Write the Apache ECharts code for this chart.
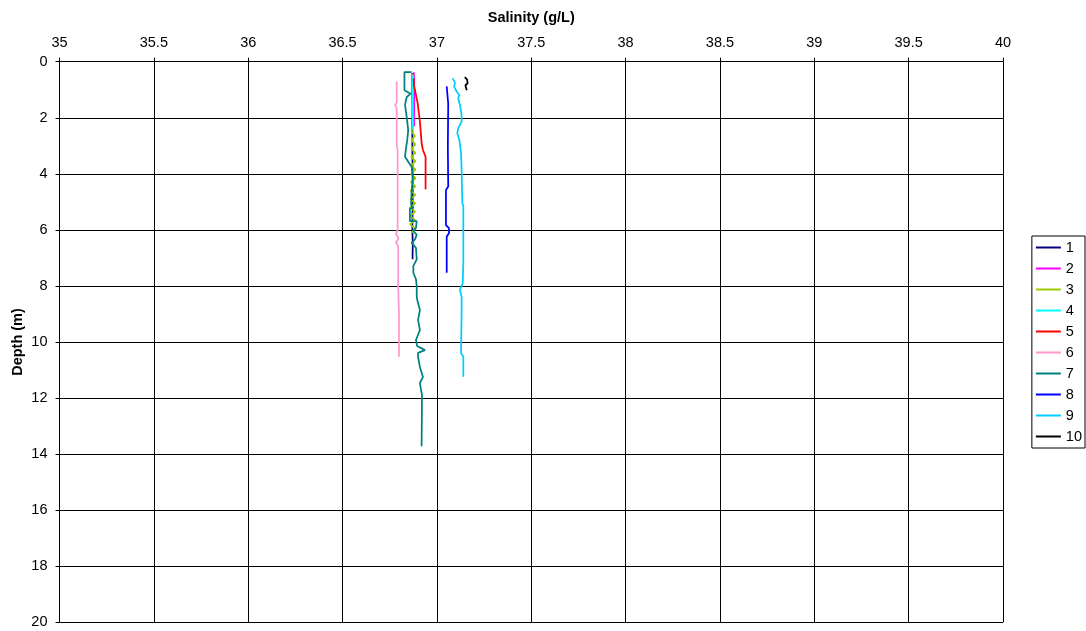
<!DOCTYPE html>
<html>
<head>
<meta charset="utf-8">
<script src="https://cdn.jsdelivr.net/npm/echarts@6/dist/echarts.min.js"></script>
<style>
  html, body { margin: 0; padding: 0; background: #fff; }
  #chart { width: 1086px; height: 631px; }
</style>
</head>
<body>
<div id="chart"></div>
<script>
// Salinity profiles: each point is [salinity (g/L), depth (m)]
const profile1 = [[36.870, 0.40], [36.870, 1.50], [36.870, 3.00], [36.872, 4.50], [36.870, 6.00], [36.872, 6.50], [36.871, 7.05]];
const profile2 = [[36.878, 0.38], [36.880, 1.00], [36.879, 2.00], [36.880, 2.30]];
const profile3 = [[36.870, 0.43], [36.872, 1.00], [36.868, 1.60], [36.874, 2.20], [36.866, 2.50], [36.884, 2.65], [36.865, 2.80],
                  [36.886, 2.95], [36.865, 3.10], [36.886, 3.25], [36.864, 3.40], [36.887, 3.55], [36.864, 3.70], [36.887, 3.85],
                  [36.863, 4.00], [36.887, 4.15], [36.862, 4.30], [36.886, 4.45], [36.861, 4.60], [36.886, 4.75], [36.860, 4.90],
                  [36.885, 5.05], [36.859, 5.20], [36.885, 5.35], [36.858, 5.50], [36.884, 5.65], [36.858, 5.80], [36.882, 5.95],
                  [36.868, 6.10]];
const profile4 = [[36.873, 0.49], [36.872, 1.00], [36.871, 2.00], [36.872, 2.40]];
const profile5 = [[36.877, 0.60], [36.878, 0.83], [36.898, 1.48], [36.910, 2.14], [36.919, 2.90], [36.926, 3.15], [36.940, 3.39], [36.940, 4.55]];
const profile6 = [[36.787, 0.71], [36.787, 1.45], [36.778, 1.55], [36.787, 1.65], [36.787, 3.00], [36.792, 3.15], [36.792, 6.00],
                  [36.783, 6.15], [36.797, 6.30], [36.783, 6.45], [36.795, 6.60], [36.795, 8.00], [36.799, 9.00], [36.799, 10.53]];
const profile7 = [[36.866, 0.37], [36.828, 0.37], [36.828, 1.02], [36.861, 1.14], [36.840, 1.26], [36.831, 1.54], [36.840, 1.97],
                  [36.848, 2.44], [36.843, 2.79], [36.835, 3.15], [36.831, 3.39], [36.848, 3.57], [36.866, 3.75], [36.873, 4.15],
                  [36.866, 4.61], [36.863, 5.10], [36.875, 5.22], [36.857, 5.22], [36.857, 5.69], [36.893, 5.69], [36.889, 5.93],
                  [36.875, 6.04], [36.893, 6.17], [36.884, 6.34], [36.866, 6.46], [36.889, 6.64], [36.893, 7.05], [36.875, 7.29],
                  [36.875, 7.53], [36.889, 7.76], [36.893, 8.00], [36.893, 8.36], [36.896, 8.50], [36.910, 8.86], [36.900, 9.21],
                  [36.910, 9.57], [36.889, 9.93], [36.895, 10.14], [36.937, 10.29], [36.900, 10.39], [36.900, 10.53], [36.910, 10.89],
                  [36.926, 11.25], [36.910, 11.46], [36.916, 11.71], [36.921, 11.89], [36.919, 11.96], [36.919, 13.72]];
const profile8 = [[37.052, 0.88], [37.056, 0.82], [37.060, 0.84], [37.060, 1.50], [37.058, 3.03], [37.060, 4.45], [37.048, 4.58],
                  [37.048, 5.83], [37.064, 5.94], [37.064, 6.12], [37.052, 6.24], [37.052, 7.53]];
const profile9 = [[37.084, 0.59], [37.096, 0.77], [37.091, 0.89], [37.105, 1.07], [37.119, 1.19], [37.113, 1.31], [37.122, 1.54],
                  [37.131, 1.90], [37.131, 2.14], [37.113, 2.38], [37.108, 2.55], [37.119, 2.79], [37.128, 3.27], [37.131, 3.86],
                  [37.133, 4.58], [37.135, 5.05], [37.140, 5.17], [37.140, 6.00], [37.140, 7.18], [37.137, 7.91], [37.122, 8.14],
                  [37.131, 8.38], [37.131, 8.86], [37.128, 10.40], [37.140, 10.52], [37.140, 11.24]];
const profile10 = [[37.148, 0.55], [37.160, 0.64], [37.151, 0.70], [37.163, 0.77], [37.151, 0.84], [37.158, 0.90], [37.158, 1.02]];

const profileNames = ['1', '2', '3', '4', '5', '6', '7', '8', '9', '10'];
const profiles = [profile1, profile2, profile3, profile4, profile5, profile6, profile7, profile8, profile9, profile10];
const profileColors = ['#000080', '#FF00FF', '#99CC00', '#00FFFF', '#FF0000', '#FF99CC', '#008080', '#0000FF', '#00CCFF', '#000000'];

const salinityRange = [35, 40];
const depthRange = [0, 20];

const FONT = 'Liberation Sans, Arial, sans-serif';

const chart = echarts.init(document.getElementById('chart'), null, { renderer: 'canvas' });

chart.setOption({
  animation: false,
  backgroundColor: '#ffffff',
  grid: { left: 59.5, right: 83, top: 61.7, bottom: 8.7, containLabel: false, outerBoundsMode: 'none' },
  legend: {
    orient: 'vertical',
    right: 1,
    top: 236,
    data: profileNames,
    icon: 'rect',
    itemWidth: 25,
    itemHeight: 2,
    itemGap: 6,
    itemStyle: { borderWidth: 0 },
    borderColor: '#000',
    borderWidth: 1,
    padding: [4, 3, 4, 4],
    textStyle: { fontFamily: FONT, fontSize: 14.5, color: '#000', lineHeight: 14 }
  },
  xAxis: {
    type: 'value',
    position: 'top',
    min: salinityRange[0],
    max: salinityRange[1],
    interval: 0.5,
    name: 'Salinity (g/L)',
    nameLocation: 'middle',
    nameGap: 36,
    nameMoveOverlap: false,
    nameTextStyle: { fontFamily: FONT, fontSize: 14.5, fontWeight: 'bold', color: '#000' },
    axisLine: { show: true, lineStyle: { color: '#000', width: 1 } },
    axisTick: { show: true, inside: false, length: 4, lineStyle: { color: '#000' } },
    axisLabel: { fontFamily: FONT, fontSize: 14.5, color: '#000', margin: 11 },
    splitLine: { show: true, lineStyle: { color: '#000', width: 1 } }
  },
  yAxis: {
    type: 'value',
    inverse: true,
    min: depthRange[0],
    max: depthRange[1],
    interval: 2,
    name: 'Depth (m)',
    nameLocation: 'middle',
    nameGap: 34,
    nameRotate: 90,
    nameMoveOverlap: false,
    nameTextStyle: { fontFamily: FONT, fontSize: 14.5, fontWeight: 'bold', color: '#000' },
    axisLine: { show: true, lineStyle: { color: '#000', width: 1 } },
    axisTick: { show: true, inside: false, length: 4, lineStyle: { color: '#000' } },
    axisLabel: { fontFamily: FONT, fontSize: 14.5, color: '#000', margin: 12 },
    splitLine: { show: true, lineStyle: { color: '#000', width: 1 } }
  },
  series: profiles.map((data, i) => ({
    name: profileNames[i],
    type: 'line',
    data: data,
    showSymbol: false,
    symbol: 'none',
    smooth: false,
    color: profileColors[i],
    lineStyle: { color: profileColors[i], width: 1.75 },
    emphasis: { disabled: true }
  }))
});
</script>
</body>
</html>
